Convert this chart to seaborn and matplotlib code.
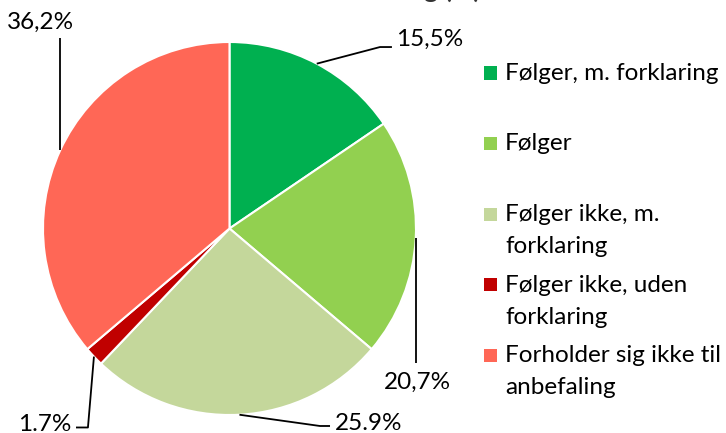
import matplotlib

matplotlib.use("Agg")
import matplotlib.pyplot as plt
import numpy as np
import seaborn as sns
from matplotlib.patches import Rectangle

OUT_PATH = "out.png"

TITLE = "Samlet fordeling (%)"
CATEGORIES = [
    "Følger, m. forklaring",
    "Følger",
    "Følger ikke, m.\nforklaring",
    "Følger ikke, uden\nforklaring",
    "Forholder sig ikke til\nanbefaling",
]
VALUES = [15.5, 20.7, 25.9, 1.7, 36.2]
VALUE_LABELS = ["15,5%", "20,7%", "25.9%", "1.7%", "36,2%"]
COLORS = ["#00B050", "#92D050", "#C4D79B", "#C00000", "#FF6756"]

# leader line layout, in pie radius units: (elbow points, text xy, ha, va)
LABEL_LAYOUT = [
    ([(0.807, 0.973), (0.871, 0.973)], (0.893, 1.016), "left", "center"),
    ([(None, -0.721)], (1.008, -0.823), "center", "center"),
    ([(0.485, -1.059), (0.539, -1.059)], (0.566, -1.045), "left", "center"),
    ([(-0.759, -1.067), (-0.823, -1.067)], (-0.845, -1.050), "right", "center"),
    ([(None, 1.021)], (-1.011, 1.107), "center", "center"),
]

FIG_W, FIG_H, DPI = 7.26, 4.33, 100
FONT_SIZE = 17.5


def draw_labels(ax, wedges) -> None:
    for wedge, text, (elbows, text_xy, ha, va) in zip(wedges, VALUE_LABELS, LABEL_LAYOUT):
        mid = np.deg2rad((wedge.theta1 + wedge.theta2) / 2)
        x0, y0 = np.cos(mid), np.sin(mid)
        xs, ys = [x0], [y0]
        for ex, ey in elbows:
            xs.append(x0 if ex is None else ex)
            ys.append(ey)
        ax.plot(xs, ys, color="black", lw=1.3, clip_on=False, solid_capstyle="butt")
        ax.text(text_xy[0], text_xy[1], text, ha=ha, va=va, fontsize=FONT_SIZE,
                color="black", clip_on=False)


def draw_legend(fig) -> None:
    top_px, step_px = 73, 70.5
    for i, (label, color) in enumerate(zip(CATEGORIES, COLORS)):
        cy = top_px + i * step_px
        fig.patches.append(
            Rectangle((484 / 726, 1 - (cy + 6.5) / 433), 13 / 726, 13 / 433,
                      transform=fig.transFigure, facecolor=color, edgecolor="none")
        )
        fig.text(505 / 726, 1 - (cy - 10) / 433, label, ha="left", va="top",
                 fontsize=FONT_SIZE, linespacing=1.65, color="black")


def main() -> None:
    sns.set_theme(style="white")
    plt.rcParams["font.family"] = ["Lato", "DejaVu Sans"]

    fig = plt.figure(figsize=(FIG_W, FIG_H), dpi=DPI)
    ax = fig.add_axes([0.0592, 0.0416, 0.5138, 0.8614])
    wedges, _ = ax.pie(
        VALUES,
        colors=COLORS,
        startangle=90,
        counterclock=False,
        wedgeprops={"edgecolor": "white", "linewidth": 1.5},
    )
    ax.set_xlim(-1, 1)
    ax.set_ylim(-1, 1)
    ax.axis("off")

    draw_labels(ax, wedges)
    draw_legend(fig)

    # title sits mostly above the canvas, as in the source image
    fig.text(0.5, 1 + 2 / 433, TITLE, ha="center", va="baseline",
             fontsize=19, fontweight="bold", color="#333333")

    fig.savefig(OUT_PATH, dpi=DPI)
    plt.close(fig)


if __name__ == "__main__":
    main()
